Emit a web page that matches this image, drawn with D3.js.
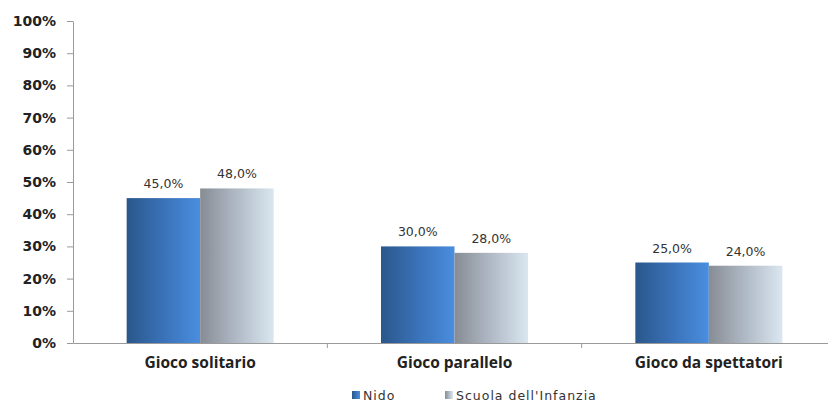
<!DOCTYPE html>
<html><head><meta charset="utf-8">
<script src="https://cdn.jsdelivr.net/npm/d3@7"></script>
<style>body{margin:0;background:#fff}svg{display:block}</style>
</head><body>
<script>
const categories = ["Gioco solitario", "Gioco parallelo", "Gioco da spettatori"];
const seriesNames = ["Nido", "Scuola dell'Infanzia"];
const nido = [45.0, 30.0, 25.0];
const scuola = [48.0, 28.0, 24.0];
const yTicks = [0, 10, 20, 30, 40, 50, 60, 70, 80, 90, 100];

const W = 828, H = 401;
const m = {left: 73, right: -8, top: 21, bottom: 58};
const svg = d3.select("body").append("svg").attr("width", W).attr("height", H);
const defs = svg.append("defs");
function grad(id, stops){
  const g = defs.append("linearGradient").attr("id", id).attr("x1","0").attr("x2","1").attr("y1","0").attr("y2","0");
  stops.forEach(s => g.append("stop").attr("offset", s[0]).attr("stop-color", s[1]));
}
grad("gNido", [[0,"#2a578b"],[0.5,"#3a72b8"],[1,"#4a8edf"]]);
grad("gScuola", [[0,"#878c94"],[0.5,"#b0bac6"],[1,"#dae6f0"]]);
const fills = ["url(#gNido)", "url(#gScuola)"];

const x = d3.scaleBand().domain(categories).range([m.left, W - m.right]);
const x1 = d3.scaleBand().domain([0,1]).range([0, x.bandwidth()]).paddingOuter(0.73).paddingInner(0);
const y = d3.scaleLinear().domain([0, 100]).range([H - m.bottom, m.top]);

const series = [nido, scuola];
const g = svg.append("g");
categories.forEach((c, i) => {
  series.forEach((s, j) => {
    g.append("rect")
      .attr("x", x(c) + x1(j)).attr("width", x1.bandwidth())
      .attr("y", y(s[i])).attr("height", y(0) - y(s[i]))
      .attr("fill", fills[j]);
    g.append("text")
      .attr("x", x(c) + x1(j) + x1.bandwidth()/2)
      .attr("y", y(s[i]) - 10)
      .attr("text-anchor", "middle")
      .attr("font-family", "DejaVu Sans").attr("font-size", 12.5).attr("fill", "#333")
      .text(s[i].toFixed(1).replace(".", ",") + "%");
  });
});

// y axis
const ya = svg.append("g").attr("transform", `translate(${m.left},0)`)
  .call(d3.axisLeft(y).tickValues(yTicks).tickSize(6).tickSizeOuter(0).tickFormat(d => d + "%"));
ya.select(".domain").attr("stroke", "#9a9a9a");
ya.selectAll(".tick line").attr("stroke", "#9a9a9a");
ya.selectAll(".tick text").attr("x", -17).attr("font-family", "DejaVu Sans").attr("font-weight", "bold")
  .attr("font-size", 14).attr("fill", "#222");

// x axis
const xa = svg.append("g").attr("transform", `translate(0,${y(0)})`)
  .call(d3.axisBottom(x).tickSize(0).tickSizeOuter(0));
xa.select(".domain").attr("stroke", "#9a9a9a");
xa.selectAll(".tick text").attr("y", 14).attr("font-family", "Open Sans").attr("font-weight", "bold")
  .attr("font-size", 15.5).attr("fill", "#222");
// category separators
categories.slice(1).forEach(c => {
  xa.append("line").attr("x1", x(c)).attr("x2", x(c)).attr("y1", 0).attr("y2", 5).attr("stroke", "#9a9a9a");
});

// legend
const legX = [352, 445];
const leg = svg.append("g");
seriesNames.forEach((n, j) => {
  leg.append("rect").attr("x", legX[j]).attr("y", 391).attr("width", 8).attr("height", 8).attr("fill", fills[j]);
  leg.append("text").attr("x", legX[j] + 11).attr("y", 399.5)
    .attr("font-family", "DejaVu Sans").attr("font-size", 12.5).attr("fill", "#333")
    .attr("letter-spacing", 1).text(n);
});
</script>
</body></html>
